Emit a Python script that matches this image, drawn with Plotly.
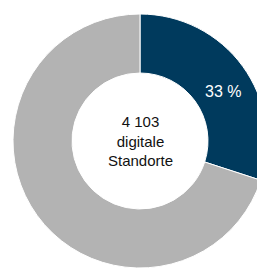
import plotly.graph_objects as go

# Data
categories = ["Digital", "Other"]
values = [30, 70]
slice_labels = ["33 %", ""]
center_text = ["4 103", "digitale", "Standorte"]

colors = ["#003a5d", "#b3b3b3"]

W, H = 268, 268
cx, cy, R = 140, 141, 127  # px, from top-left
label_px = (223, 91)       # label placement in px

fig = go.Figure(
    go.Pie(
        labels=categories,
        values=values,
        textinfo="none",
        hole=68 / 127,
        sort=False,
        direction="clockwise",
        rotation=0,
        marker=dict(colors=colors, line=dict(color="white", width=1)),
        domain=dict(x=[(cx - R) / W, (cx + R) / W], y=[(H - cy - R) / H, (H - cy + R) / H]),
        hoverinfo="skip",
        showlegend=False,
    )
)

fig.add_annotation(
    x=label_px[0] / W, y=(H - label_px[1]) / H, xref="paper", yref="paper",
    xanchor="center", yanchor="middle",
    text=slice_labels[0], showarrow=False,
    font=dict(family="Liberation Sans, Arial, sans-serif", size=16, color="white"),
)

fig.add_annotation(
    x=cx / W, y=(H - cy) / H, xref="paper", yref="paper",
    xanchor="center", yanchor="middle",
    text="<br>".join(center_text), showarrow=False,
    font=dict(family="Liberation Sans, Arial, sans-serif", size=15, color="#111111"),
    align="center",
)

fig.update_layout(
    width=W, height=H,
    margin=dict(l=0, r=0, t=0, b=0),
    paper_bgcolor="white", plot_bgcolor="white",
    showlegend=False,
)

fig.write_html(
    "out.html",
    config={"displayModeBar": False},
    post_script="document.body.style.margin='0';document.body.style.overflow='hidden';",
)
